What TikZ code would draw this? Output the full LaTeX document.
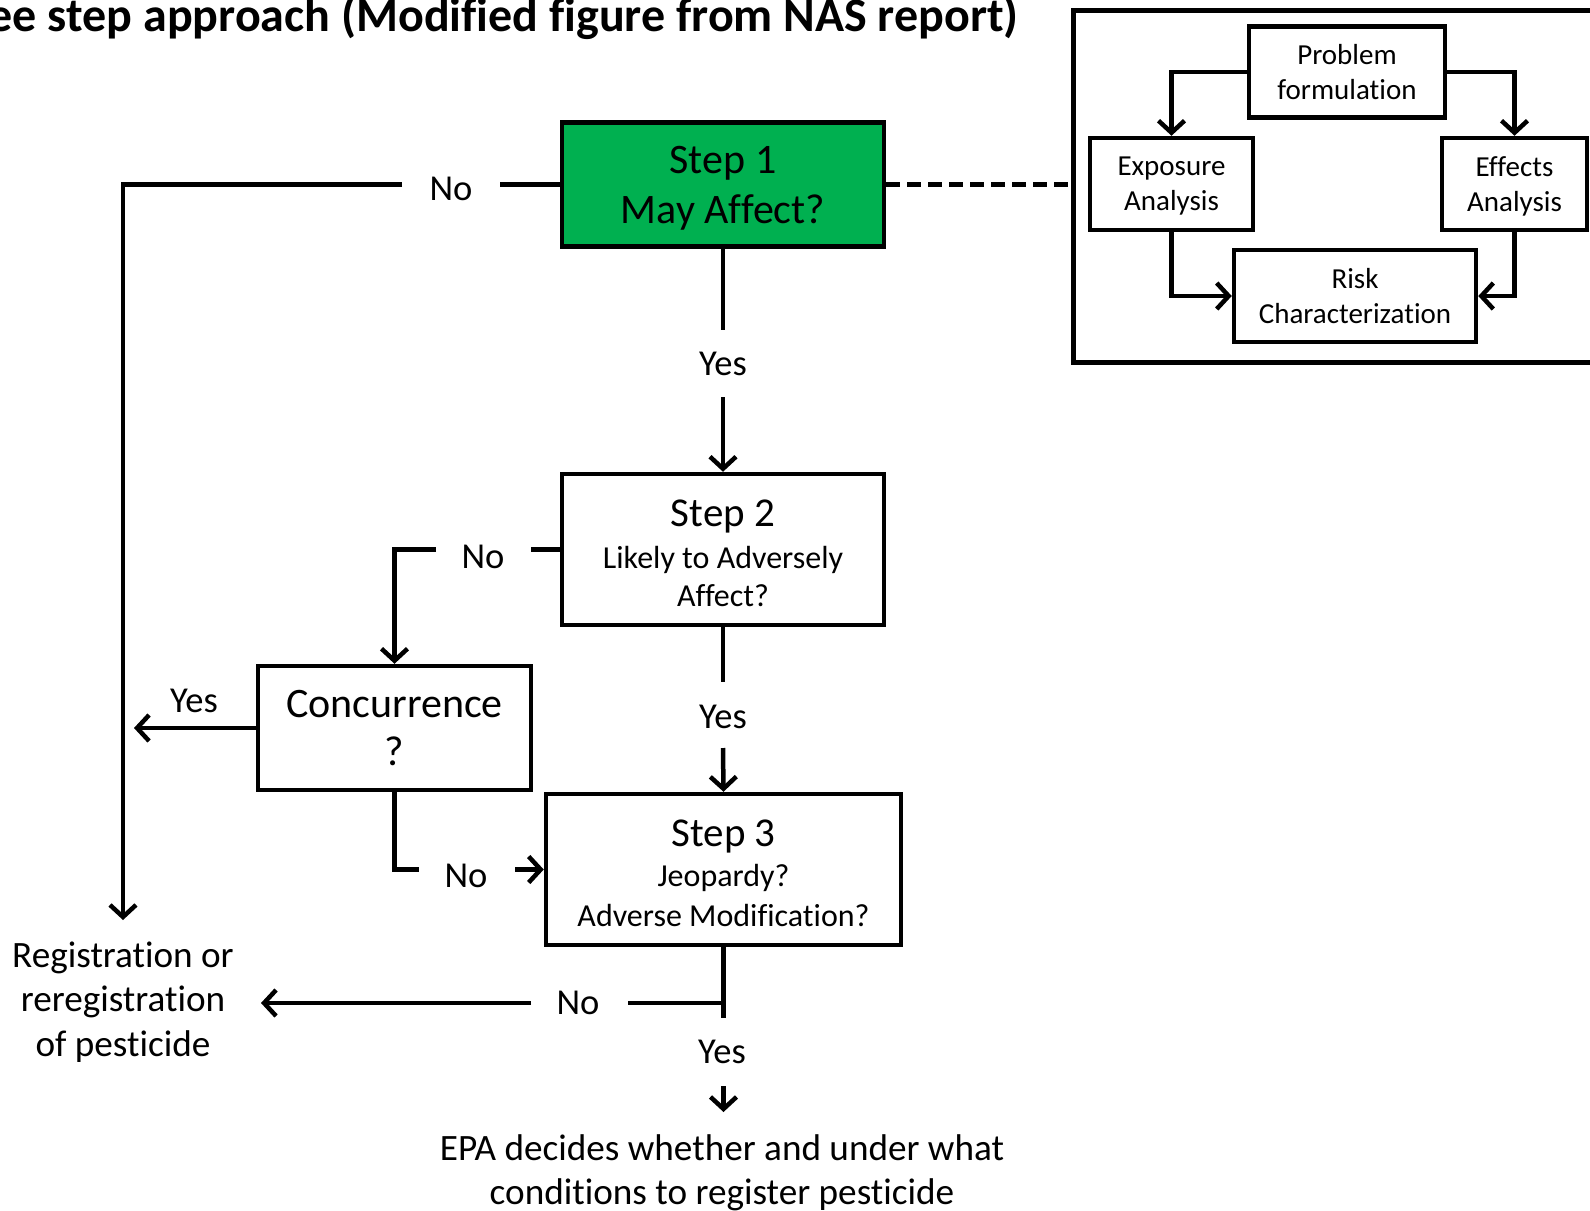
\documentclass[tikz,border=0pt]{standalone}
\usepackage{fontspec}
\setmainfont{Carlito}[Ligatures=NoCommon]
\usetikzlibrary{arrows.meta}
\definecolor{stepgreen}{HTML}{00B050}
\newcommand{\fsz}[2]{\fontsize{#1}{#2}\selectfont}
\begin{document}
\begin{tikzpicture}[x=1pt,y=-1pt,
  box/.style={draw,line width=4.5pt,inner sep=0pt,align=center,text depth=0pt},
  pbox/.style={draw,line width=4.5pt,inner sep=0pt,align=center,font=\fsz{29}{35}},
  conn/.style={line width=4.5pt},
  arr/.style={line width=4.5pt,-{Straight Barb[length=12pt,width=26pt]}},
  lbl/.style={font=\fsz{36.5}{40},inner sep=0pt,anchor=base},
  plain/.style={inner sep=0pt,anchor=base,align=center},
]
\useasboundingbox (0,0) rectangle (1590,1210);

% title (cut at the left edge)
\node[anchor=base east,inner sep=0pt,font=\bfseries\fsz{48}{56}] (title) at (1019,31)
  {ee step approach (Modified figure from NAS report)};

% main boxes
\node[box,fill=stepgreen,minimum width=322pt,minimum height=124pt,font=\fsz{42}{50}] (s1) at (723,184.5)
  {Step 1\\May Affect?};
\node[box,minimum width=322pt,minimum height=151pt,font=\fsz{32}{38}] (s2) at (723,549.5)
  {{\fsz{41}{41}\rule{0pt}{33pt}Step 2}\\[4pt]Likely to Adversely\\Affect?};
\node[box,minimum width=355pt,minimum height=151pt,font=\fsz{32}{40}] (s3) at (723.5,869.5)
  {{\fsz{41}{41}\rule{0pt}{33pt}Step 3}\\Jeopardy?\\Adverse Modification?};
\node[box,minimum width=273pt,minimum height=124pt,font=\fsz{42}{48}] (conc) at (394.5,728)
  {Concurrence\\?};

% outcome texts (base = baseline of the last line)
\node[plain,font=\fsz{37.2}{44.5}] (reg) at (123,1056)
  {Registration or\\reregistration\\of pesticide};
\node[plain,font=\fsz{37.2}{43.5}] (epa) at (722,1204)
  {EPA decides whether and under what\\conditions to register pesticide};

% right panel
\node[draw,line width=4.5pt,minimum width=530pt,minimum height=352pt,inner sep=0pt] (panel) at (1338.5,186.7) {};
\node[pbox,minimum width=196pt,minimum height=91pt] (pf) at (1347,72) {Problem\\formulation};
\node[pbox,text depth=0pt,minimum width=163pt,minimum height=92pt] (ea) at (1171.5,184) {Exposure\\Analysis};
\node[pbox,text depth=0pt,minimum width=145pt,minimum height=92pt] (eff) at (1514.5,184) {Effects\\Analysis};
\node[pbox,minimum width=242pt,minimum height=92pt] (rc) at (1355,296) {Risk\\Characterization};

\draw[arr] (pf.west) -| (ea.north);
\draw[arr] (pf.east) -| (eff.north);
\draw[arr] (ea.south) |- (rc.west);
\draw[arr] (eff.south) |- (rc.east);

\draw[line width=4.5pt,dash pattern=on 14pt off 7pt] (s1.east) -- (s1.east -| panel.west);

% Step 1 -> No -> registration
\coordinate (n1a) at (500,184.5);
\coordinate (n1b) at (402,184.5);
\coordinate (regtop) at (123,920);
\node[lbl] (no1) at (451,200) {No};
\draw[conn] (s1.west) -- (n1a);
\draw[arr] (n1b) -| (regtop);

% Step 1 -> Yes -> Step 2
\coordinate (y1a) at (723,330);
\coordinate (y1b) at (723,397);
\node[lbl] (yes1) at (723,375) {Yes};
\draw[conn] (s1.south) -- (y1a);
\draw[arr] (y1b) -- (s2.north);

% Step 2 -> No -> Concurrence
\coordinate (n2a) at (531,549.5);
\coordinate (n2b) at (436,549.5);
\node[lbl] (no2) at (483,568) {No};
\draw[conn] (s2.west) -- (n2a);
\draw[arr] (n2b) -| (conc.north);

% Step 2 -> Yes -> Step 3
\coordinate (y2a) at (723,682);
\coordinate (y2b) at (723,748);
\node[lbl] (yes2) at (723,728) {Yes};
\draw[conn] (s2.south) -- (y2a);
\draw[arr] (y2b) -- (s3.north);

% Concurrence -> Yes
\coordinate (cy) at (134,728);
\node[lbl] (yes3) at (194,712) {Yes};
\draw[arr] (conc.west) -- (cy);

% Concurrence -> No -> Step 3
\coordinate (cna) at (419,869.5);
\coordinate (cnb) at (515,869.5);
\node[lbl] (no3) at (466,887) {No};
\draw[conn] (conc.south) |- (cna);
\draw[arr] (cnb) -- (s3.west);

% Step 3 -> No / Yes
\coordinate (s3end) at (723.5,1018);
\coordinate (s3j) at (723.5,1003);
\coordinate (n4a) at (628,1003);
\coordinate (n4b) at (531,1003);
\coordinate (n4c) at (261,1003);
\node[lbl] (no4) at (578,1014) {No};
\draw[conn] (s3.south) -- (s3end);
\draw[conn] (s3j) -- (n4a);
\draw[arr] (n4b) -- (n4c);

\coordinate (y4a) at (723.5,1086);
\coordinate (y4b) at (723.5,1112);
\node[lbl] (yes4) at (722,1063) {Yes};
\draw[arr] (y4a) -- (y4b);
\end{tikzpicture}
\end{document}
